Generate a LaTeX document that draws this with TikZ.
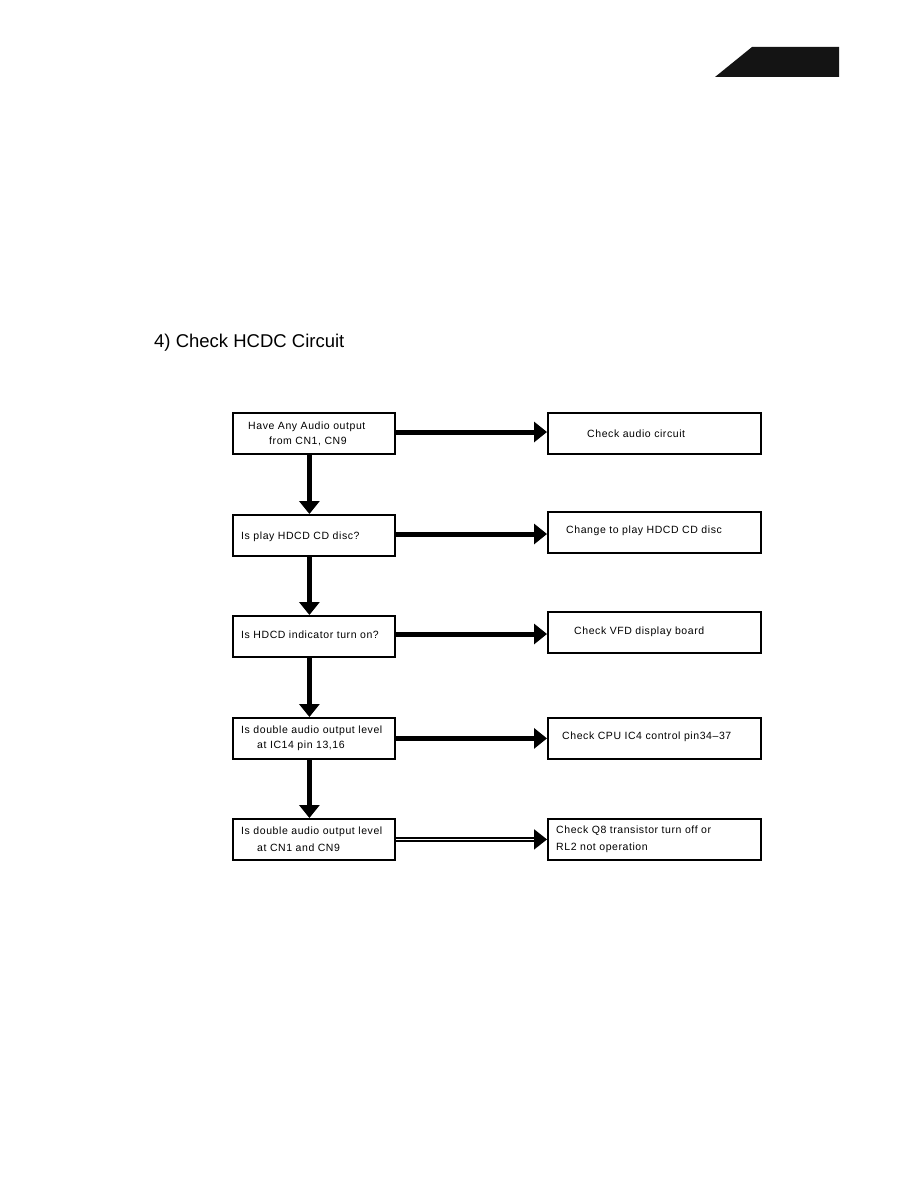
\documentclass[tikz,border=0pt]{standalone}
\usepackage{fontspec}
\setmainfont{Liberation Sans}
\newfontfamily\boxfont[LetterSpace=5.5]{Liberation Sans}
\usetikzlibrary{arrows.meta}
\begin{document}
\begin{tikzpicture}[x=1pt,y=-1pt,
  box/.style={draw=black,line width=1.8pt,minimum width=162pt,minimum height=41pt,inner sep=0pt,anchor=north west},
  rbox/.style={draw=black,line width=1.8pt,minimum width=213pt,minimum height=41pt,inner sep=0pt,anchor=north west},
  txt/.style={anchor=west,inner sep=0pt,font=\boxfont\fontsize{10.5}{12}\selectfont},
  flow/.style={line width=5pt,-{Triangle[width=20pt,length=13pt]}},
  dflow/.style={line width=2pt,double=white,double distance=1.6pt,-{Triangle[width=20pt,length=13pt]}}]
\useasboundingbox (0,0) rectangle (918,1188);
\fill[white] (0,0) rectangle (918,1188);
% corner tab
\fill[black!92] (715,77) -- (752,47) -- (839,47) -- (839,77) -- cycle;
% title
\node[anchor=west,inner sep=0pt,font=\fontsize{18.5}{22}\selectfont] (title) at (154,343) {4) Check HCDC Circuit};
% left boxes
\node[box] (l1) at (232,412) {};
\node[box] (l2) at (232,514) {};
\node[box] (l3) at (232,615) {};
\node[box] (l4) at (232,717) {};
\node[box] (l5) at (232,818) {};
% right boxes
\node[rbox] (r1) at (547,412) {};
\node[rbox] (r2) at (547,511) {};
\node[rbox] (r3) at (547,611) {};
\node[rbox] (r4) at (547,717) {};
\node[rbox] (r5) at (547,818) {};
% texts
\node[txt] (t1a) at (248,427) {Have Any Audio output};
\node[txt] (t1b) at (269,441) {from CN1, CN9};
\node[txt] (t2) at (241,537) {Is play HDCD CD disc?};
\node[txt] (t3) at (241,635) {Is HDCD indicator turn on?};
\node[txt] (t4a) at (241,731) {Is double audio output level};
\node[txt] (t4b) at (257,746) {at IC14 pin 13,16};
\node[txt] (t5a) at (241,832) {Is double audio output level};
\node[txt] (t5b) at (257,848) {at CN1 and CN9};
\node[txt] (s1) at (587,434) {Check audio circuit};
\node[txt] (s2) at (566,531) {Change to play HDCD CD disc};
\node[txt] (s3) at (574,632) {Check VFD display board};
\node[txt] (s4) at (562,737) {Check CPU IC4 control pin34\textendash37};
\node[txt] (s5a) at (556,831) {Check Q8 transistor turn off or};
\node[txt] (s5b) at (556,848) {RL2 not operation};
% vertical arrows
\foreach \a/\b in {l1/l2,l2/l3,l3/l4,l4/l5}
  \draw[flow] ([xshift=-4.5pt]\a.south) -- ([xshift=-4.5pt]\b.north);
% horizontal arrows
\draw[flow] (l1.east |- 0,432) -- (r1.west |- 0,432);
\draw[flow] (l2.east |- 0,534) -- (r2.west |- 0,534);
\draw[flow] (l3.east |- 0,634) -- (r3.west |- 0,634);
\draw[flow] (l4.east) -- (r4.west);
\draw[dflow] (l5.east) -- (r5.west);
\end{tikzpicture}
\end{document}
